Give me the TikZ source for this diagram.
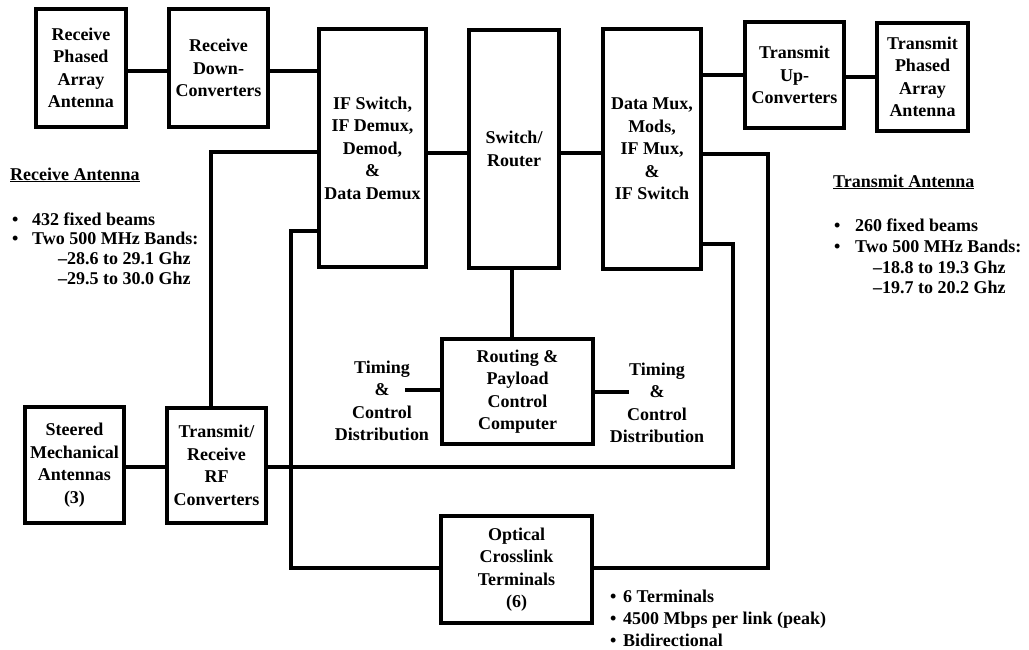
\documentclass[tikz,border=0pt]{standalone}
\usepackage{fontspec}
\setmainfont{Liberation Serif}
\newcommand{\diafont}{\fontsize{18}{22.5}\selectfont\bfseries}
\tikzset{
  box/.style={draw, line width=3.4pt, align=center, inner sep=1pt, font=\diafont},
  conn/.style={line width=3.1pt},
  txt/.style={align=center, inner sep=0pt, font=\diafont},
  lst/.style={anchor=base west, inner sep=0pt, font=\diafont},
}
\begin{document}
\begin{tikzpicture}[x=1pt,y=-1pt]
\useasboundingbox (0,0) rectangle (1029,649);
% boxes
\node[box, minimum width=90pt, minimum height=118pt] (rpa) at (81,68) {Receive\\Phased\\Array\\Antenna};
\node[box, minimum width=99pt, minimum height=118pt] (rdc) at (218.5,68) {Receive\\Down-\\Converters};
\node[box, minimum width=107pt, minimum height=238pt] (ifs) at (372.5,148) {IF Switch,\\IF Demux,\\Demod,\\\&\\Data Demux};
\node[box, minimum width=90pt, minimum height=238pt] (sw) at (514,149) {Switch/\\Router};
\node[box, minimum width=98pt, minimum height=240pt] (dmx) at (652,149) {Data Mux,\\Mods,\\IF Mux,\\\&\\IF Switch};
\node[box, minimum width=99pt, minimum height=106pt] (tuc) at (794.5,75) {Transmit\\Up-\\Converters};
\node[box, minimum width=91pt, minimum height=108pt] (tpa) at (922.5,77) {Transmit\\Phased\\Array\\Antenna};
\node[box, minimum width=151pt, minimum height=105pt] (rpc) at (517.5,391.5) {Routing \&\\Payload\\Control\\Computer};
\node[box, minimum width=99pt, minimum height=116pt] (sma) at (74.5,465) {Steered\\Mechanical\\Antennas\\(3)};
\node[box, minimum width=99pt, minimum height=115pt] (trf) at (216.5,465.5) {Transmit/\\Receive\\RF\\Converters};
\node[box, minimum width=151pt, minimum height=107pt] (ocl) at (516.5,569.5) {Optical\\Crosslink\\Terminals\\(6)};
% timing labels
\node[txt] (tcl) at (382,401) {Timing\\\&\\Control\\Distribution};
\node[txt] (tcr) at (657,403) {Timing\\\&\\Control\\Distribution};
\coordinate (tcle) at (405,390);
\coordinate (tcrw) at (629,392);
% connectors
\draw[conn] (rpa.east |- 0,71) -- (rdc.west |- 0,71);
\draw[conn] (rdc.east |- 0,71) -- (ifs.west |- 0,71);
\draw[conn] (ifs.east |- 0,153) -- (sw.west |- 0,153);
\draw[conn] (sw.east |- 0,153) -- (dmx.west |- 0,153);
\draw[conn] (dmx.east |- 0,75) -- (tuc.west |- 0,75);
\draw[conn] (tuc.east |- 0,77) -- (tpa.west |- 0,77);
\draw[conn] (sw.south -| 512,0) -- (rpc.north -| 512,0);
\draw[conn] (rpc.west |- tcle) -- (tcle);
\draw[conn] (rpc.east |- tcrw) -- (tcrw);
\draw[conn] (sma.east |- 0,467) -- (trf.west |- 0,467);
\coordinate (c1) at (211,152);
\draw[conn] (trf.north -| c1) -- (c1) -- (ifs.west |- c1);
\coordinate (c2) at (291,231);
\coordinate (c3) at (291,568);
\draw[conn] (ifs.west |- c2) -- (c2) -- (c3) -- (ocl.west |- c3);
\coordinate (c4) at (733,467);
\coordinate (c5) at (733,244);
\draw[conn] (trf.east |- c4) -- (c4) -- (c5) -- (dmx.east |- c5);
\coordinate (c6) at (768,154);
\coordinate (c7) at (768,568);
\draw[conn] (dmx.east |- c6) -- (c6) -- (c7) -- (ocl.east |- c7);
% left list
\node[lst] (ra0) at (10,180) {\underline{Receive Antenna}};
\node[lst] (ra1) at (12,225) {\makebox[20pt][l]{•}432 fixed beams};
\node[lst] (ra2) at (12,244) {\makebox[20pt][l]{•}Two 500 MHz Bands:};
\node[lst] (ra3) at (58,264) {–28.6 to 29.1 Ghz};
\node[lst] (ra4) at (58,284) {–29.5 to 30.0 Ghz};
% right list
\node[lst] (ta0) at (833,187) {\underline{Transmit Antenna}};
\node[lst] (ta1) at (834,231) {\makebox[21pt][l]{•}260 fixed beams};
\node[lst] (ta2) at (834,252) {\makebox[21pt][l]{•}Two 500 MHz Bands:};
\node[lst] (ta3) at (873,273) {–18.8 to 19.3 Ghz};
\node[lst] (ta4) at (873,293) {–19.7 to 20.2 Ghz};
% bottom list
\node[lst] (oa1) at (610,602) {\makebox[13pt][l]{•}6 Terminals};
\node[lst] (oa2) at (610,624) {\makebox[13pt][l]{•}4500 Mbps per link (peak)};
\node[lst] (oa3) at (610,646) {\makebox[13pt][l]{•}Bidirectional};
\end{tikzpicture}
\end{document}
